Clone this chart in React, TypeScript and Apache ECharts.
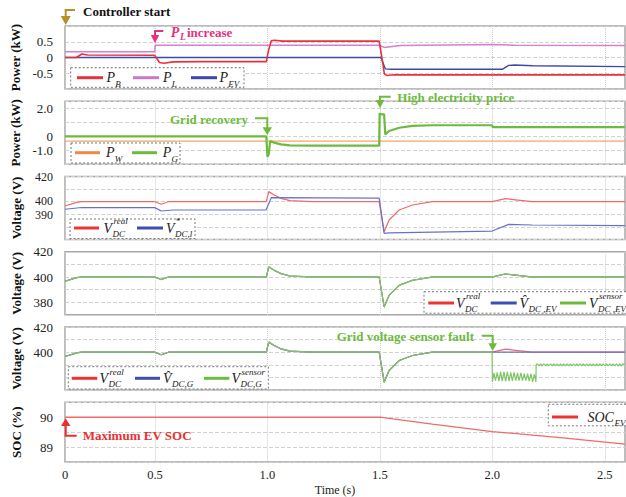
import React, { useEffect, useRef } from "react";
import * as echarts from "echarts";

const FONT = '"Liberation Serif", "Times New Roman", serif';

// ---------- time axis ----------
const TIME_MIN = 0.1;
const TIME_MAX = 2.59;
const timeTicks = [0.1, 0.5, 1.0, 1.5, 2.0, 2.5];
const timeTickLabels = ["0", "0.5", "1.0", "1.5", "2.0", "2.5"];

// ---------- panel 1: power (kW) ----------
const pB = [
  [0.1, 0], [0.15, 0], [0.175, 0.11], [0.2, 0.08], [0.49, 0.07], [0.5, 0.06],
  [0.52, -0.16], [0.54, -0.18], [0.58, -0.14], [0.7, -0.13], [0.995, -0.13],
  [1.006, 0.25], [1.017, 0.53], [1.031, 0.55], [1.067, 0.52], [1.497, 0.52],
  [1.509, 0.0], [1.52, -0.52], [1.53, -0.57], [1.56, -0.55], [2.59, -0.55],
];
const pL = [
  [0.1, 0.18], [0.499, 0.18], [0.501, 0.39], [1.497, 0.39], [1.52, 0.32],
  [1.59, 0.38], [2.0, 0.41], [2.1, 0.39], [2.59, 0.38],
];
const pEV = [
  [0.1, 0], [1.505, 0], [1.524, -0.36], [1.55, -0.375], [2.044, -0.375],
  [2.073, -0.25], [2.1, -0.24], [2.18, -0.26], [2.59, -0.29],
];

// ---------- panel 2: power (kW) ----------
const pW = [[0.1, -0.35], [1.0, -0.35], [2.0, -0.35], [2.59, -0.35]];
const pG = [
  [0.1, 0], [0.995, 0], [1.0, -1.45], [1.006, -1.3], [1.012, -0.34],
  [1.03, -0.45], [1.06, -0.58], [1.1, -0.65], [1.2, -0.67], [1.497, -0.67],
  [1.499, 1.64], [1.505, 1.57], [1.519, 1.57], [1.524, 0.14], [1.541, 0.38],
  [1.586, 0.61], [1.645, 0.74], [1.733, 0.79], [1.999, 0.79], [2.002, 0.66],
  [2.59, 0.66],
];

// ---------- voltages (V) ----------
const vDcReal = [
  [0.1, 396.6], [0.152, 399.5], [0.174, 400], [0.499, 400], [0.528, 398],
  [0.56, 400], [0.995, 400], [1.006, 408], [1.03, 405.3], [1.06, 402.7],
  [1.1, 400.8], [1.2, 400], [1.497, 400], [1.519, 376.2], [1.541, 385.5],
  [1.586, 393.4], [1.645, 397.4], [1.733, 400], [1.999, 400], [2.058, 402.4],
  [2.103, 401.5], [2.177, 400], [2.59, 400],
];
const vDcRefL = [
  [0.1, 394], [0.174, 395.4], [0.499, 395.3], [0.528, 392.6], [0.58, 393.4],
  [0.994, 393.4], [1.017, 403.2], [1.497, 402.8], [1.519, 374.9], [1.541, 375.2],
  [1.999, 376.7], [2.073, 382], [2.177, 381.5], [2.59, 381],
];
const gEstimateAfterFault = [[2.0, 400], [2.59, 400]];
const gSensorAfterFault = [
  [2.0, 400], [2.0005, 376.5], [2.007, 383.5], [2.014, 377.5], [2.022, 384],
  [2.029, 377], [2.037, 384.5], [2.044, 377], [2.052, 384.5], [2.059, 376.8],
  [2.067, 384.5], [2.074, 377], [2.082, 384], [2.089, 377.2], [2.097, 384],
  [2.104, 377.5], [2.112, 383.5], [2.119, 377.5], [2.127, 383.5], [2.134, 377.5],
  [2.142, 383], [2.149, 377.5], [2.157, 383], [2.164, 377], [2.172, 383],
  [2.179, 376.5], [2.187, 382.5], [2.194, 376.5], [2.195, 390],
  [2.2, 390.8], [2.207, 389.2], [2.215, 390.8], [2.222, 389.2], [2.229, 390.8],
  [2.237, 389.2], [2.244, 390.8], [2.251, 389.2], [2.259, 390.8], [2.266, 389.2],
  [2.273, 390.8], [2.281, 389.2], [2.288, 390.8], [2.295, 389.2], [2.303, 390.8],
  [2.31, 389.2], [2.317, 390.8], [2.325, 389.2], [2.332, 390.8], [2.339, 389.2],
  [2.347, 390.8], [2.354, 389.2], [2.361, 390.8], [2.369, 389.2], [2.376, 390.8],
  [2.383, 389.2], [2.391, 390.8], [2.398, 389.2], [2.405, 390.8], [2.413, 389.2],
  [2.42, 390.8], [2.427, 389.2], [2.435, 390.8], [2.442, 389.2], [2.449, 390.8],
  [2.457, 389.2], [2.464, 390.8], [2.471, 389.2], [2.479, 390.8], [2.486, 389.2],
  [2.493, 390.8], [2.501, 389.2], [2.508, 390.8], [2.515, 389.2], [2.523, 390.8],
  [2.53, 389.2], [2.537, 390.8], [2.545, 389.2], [2.552, 390.8], [2.559, 389.2],
  [2.567, 390.8], [2.574, 389.2], [2.581, 390.8], [2.59, 390],
];

// ---------- SOC (%) ----------
const socEV = [[0.1, 90], [1.5, 90], [1.733, 89.77], [2.0, 89.52], [2.325, 89.3], [2.59, 89.1]];

// ---------- y tick labels ----------
const yLabelMaps: Record<string, string>[] = [
  { "0.5": "0.5", "0": "0", "-0.5": "-0.5" },
  { "2": "2.0", "0": "0", "-1": "-1.0" },
  { "420": "420", "400": "{up|400}", "390": "{dn|390}" },
  { "420": "420", "400": "400", "380": "380" },
  { "420": "420", "400": "400" },
  { "90": "90", "89": "89" },
];
const yRanges = [
  { min: -1, max: 1, interval: 0.5 },
  { min: -2, max: 2.5, interval: 1 },
  { min: 370, max: 420, interval: 10 },
  { min: 370, max: 420, interval: 10 },
  { min: 370, max: 420, interval: 10 },
  { min: 88.5, max: 90.5, interval: 0.5 },
];
const yNames = ["Power (kW)", "Power (kW)", "Voltage (V)", "Voltage (V)", "Voltage (V)", "SOC (%)"];
const gridTops = [26, 101.3, 176.5, 251.8, 327, 402.3];
const gridHeights = [63, 63, 63, 63, 63, 60.5];

const C = {
  red: "#e8333a", pink: "#d47fcf", navy: "#3c4aa8", orange: "#f4a56a",
  green: "#6cbb3c", vRed: "#f06a6a", vBlue: "#6a70c8", vGreen: "#80c668",
  gold: "#b8902a", magenta: "#e6317e", annRed: "#e8312f",
  legRed: "#ee3333", legBlue: "#3d4db0", legOrange: "#f08848", legPink: "#cc77cc",
};

function line(name: string, data: number[][], g: number, color: string, width: number) {
  return {
    type: "line", name, data, xAxisIndex: g, yAxisIndex: g, showSymbol: false,
    symbol: "none", lineStyle: { color, width }, itemStyle: { color }, silent: true,
  };
}

function txt(text: string, x: number, y: number, size: number, fill: string,
  weight = "normal", fstyle = "normal", align = "left") {
  return {
    type: "text", x, y, z: 101, silent: true,
    style: { text, fill, fontSize: size, fontFamily: FONT, fontWeight: weight, fontStyle: fstyle, align, verticalAlign: "middle" },
  };
}
function poly(points: number[][], stroke: string, width: number) {
  return { type: "polyline", z: 101, silent: true, shape: { points }, style: { stroke, lineWidth: width, fill: null } };
}
function tri(points: number[][], fill: string) {
  return { type: "polygon", z: 101, silent: true, shape: { points }, style: { fill } };
}
function box(x: number, y: number, w: number, h: number) {
  return { type: "rect", z: 100, silent: true, shape: { x, y, width: w, height: h }, style: { fill: "#fff", stroke: "#777", lineWidth: 1, lineDash: [2, 2] } };
}
function lgLine(x1: number, x2: number, y: number, color: string) {
  return { type: "line", z: 101, silent: true, shape: { x1, y1: y, x2, y2: y }, style: { stroke: color, lineWidth: 3 } };
}
// symbol: main letter(s) + optional sub/sup
function sym(x: number, y: number, base: string, sub?: string, sup?: string, subDx = 9, supDx = 10, baseSize = 14) {
  const out: any[] = [txt(base, x, y, baseSize, "#222", "normal", "italic")];
  if (sub) out.push(txt(sub, x + subDx, y + 5.8, 9, "#222", "normal", "italic"));
  if (sup) out.push(txt(sup, x + supDx, y - 6.8, 9, "#222", "normal", "italic"));
  return out;
}

function buildGraphics() {
  const g: any[] = [];
  // Legend 1
  g.push(box(70.7, 67.7, 173.3, 19.6));
  g.push(lgLine(77, 103, 77.7, C.red), ...sym(106.5, 77.7, "P", "B", undefined, 8.8));
  g.push(lgLine(133, 159, 77.7, C.legPink), ...sym(163, 77.7, "P", "L", undefined, 8.8));
  g.push(lgLine(191, 217, 77.7, C.navy), ...sym(219.5, 77.7, "P", "EV", undefined, 8.8));
  // Legend 2
  g.push(box(71, 143, 109, 20));
  g.push(lgLine(75, 100, 152.7, C.legOrange), ...sym(106, 152.7, "P", "W", undefined, 8.8));
  g.push(lgLine(132, 157, 152.7, C.green), ...sym(162.7, 152.7, "P", "G", undefined, 8.8));
  // Legend 3
  g.push(box(70, 219, 125, 19.5));
  g.push(lgLine(74, 99, 228, C.legRed), ...sym(103.5, 228, "V", "DC", "real"));
  g.push(lgLine(137, 163, 228, C.legBlue), ...sym(166, 228, "V", "DC,l", "*", 9, 9.5));
  // Legend 4
  g.push(box(424, 291.7, 205, 21.5));
  g.push(lgLine(428.3, 454, 303, C.legRed), ...sym(456, 303, "V", "DC", "real"));
  g.push(lgLine(490.7, 516.7, 303, C.legBlue), ...sym(519.5, 303, "V\u0302", "DC ,EV", undefined, 9));
  g.push(lgLine(560, 586, 303, C.green), ...sym(589, 303, "V", "DC ,EV", "sensor", 9, 10));
  // Legend 5
  g.push(box(68.3, 366.7, 200, 22.3));
  g.push(lgLine(71.7, 97.3, 378.3, C.legRed), ...sym(99.5, 378.3, "V", "DC", "real"));
  g.push(lgLine(135, 160, 378.3, C.legBlue), ...sym(163, 378.3, "V\u0302", "DC,G", undefined, 9));
  g.push(lgLine(204, 229.3, 378.3, C.green), ...sym(231.5, 378.3, "V", "DC,G", "sensor"));
  // Legend 6
  g.push(box(548.3, 404.3, 80, 21.5));
  g.push(lgLine(552, 578, 417, C.legRed), ...sym(587.5, 417, "SOC", "EV", undefined, 27, 0, 14));

  // Annotations
  g.push(poly([[75, 10], [65.7, 10], [65.7, 17]], C.gold, 2));
  g.push(tri([[60.7, 16], [70.7, 16], [65.7, 25]], C.gold));
  g.push(txt("Controller start", 83, 11, 13, "#111", "bold"));

  g.push(poly([[163.3, 31], [155, 31], [155, 36]], C.magenta, 2));
  g.push(tri([[150.8, 35], [159.2, 35], [155, 43.3]], C.magenta));
  g.push(txt("P", 170.7, 32.3, 14, C.magenta, "bold", "italic"));
  g.push(txt("L", 180, 37, 9.5, C.magenta, "bold", "italic"));
  g.push(txt("increase", 187, 32.3, 13, C.magenta, "bold"));

  g.push(txt("Grid recovery", 170, 119.3, 13, C.green, "bold"));
  g.push(poly([[255, 118.3], [267.3, 118.3], [267.3, 128]], C.green, 2));
  g.push(tri([[262.5, 127.3], [272, 127.3], [267.3, 135]], C.green));

  g.push(txt("High electricity price", 397.3, 97.3, 13, C.green, "bold"));
  g.push(poly([[390.7, 96.7], [380, 96.7], [380, 101]], C.green, 2));
  g.push(tri([[375.8, 100], [384.3, 100], [380, 108.3]], C.green));

  g.push(txt("Grid voltage sensor fault", 336.7, 336.7, 13, C.green, "bold"));
  g.push(poly([[481.7, 335.7], [492.7, 335.7], [492.7, 344]], C.green, 2));
  g.push(tri([[488.3, 343.3], [497, 343.3], [492.7, 351]], C.green));

  g.push(tri([[61, 426], [70.4, 426], [65.7, 418.3]], C.annRed));
  g.push(poly([[65.7, 425], [65.7, 435.7], [76.7, 435.7]], C.annRed, 2));
  g.push(txt("Maximum EV SOC", 82.7, 435.7, 13, C.annRed, "bold"));
  return g;
}

function buildOption() {
  const grids = gridTops.map((top, i) => ({
    left: 65, right: 1, top, height: gridHeights[i], show: true,
    borderColor: "#a8a8a8", borderWidth: 1.5, backgroundColor: "transparent",
  }));
  const xAxes = gridTops.map((_, i) => ({
    type: "value", gridIndex: i, min: TIME_MIN, max: TIME_MAX,
    axisLine: { show: false },
    axisTick: { show: false, customValues: timeTicks },
    splitLine: { show: true, lineStyle: { color: "#cccccc", type: "dotted", width: 1 } },
    axisLabel: {
      show: i === 5, customValues: timeTicks, margin: 6,
      fontFamily: FONT, fontSize: 12.5, color: "#222",
      formatter: (v: number) => {
        const k = timeTicks.findIndex((t) => Math.abs(t - v) < 1e-6);
        return k >= 0 ? timeTickLabels[k] : "";
      },
    },
    name: i === 5 ? "Time (s)" : "",
    nameLocation: "middle", nameGap: 22,
    nameTextStyle: { fontFamily: FONT, fontSize: 12, color: "#222", padding: [0, 20, 0, 0] },
  }));
  const yAxes = gridTops.map((_, i) => ({
    type: "value", gridIndex: i, ...yRanges[i],
    axisLine: { show: false }, axisTick: { show: false },
    splitLine: { show: true, lineStyle: { color: "#d2d2d2", type: "dashed", width: 1 } },
    axisLabel: {
      margin: 12, fontFamily: FONT, fontSize: i === 2 ? 12 : 13, color: "#222",
      formatter: (v: number) => yLabelMaps[i][String(v)] ?? "",
      rich: {
        up: { fontFamily: FONT, fontSize: 12, color: "#222", padding: [0, 0, 2, 0] },
        dn: { fontFamily: FONT, fontSize: 12, color: "#222", padding: [2, 0, 0, 0] },
      },
    },
    name: yNames[i], nameLocation: "middle", nameGap: 42, nameRotate: 90,
    nameTextStyle: { fontFamily: FONT, fontSize: 13, fontWeight: "bold", color: "#111" },
  }));

  const preFault = vDcReal.filter((p) => p[0] < 2);
  const series = [
    line("P_L", pL, 0, C.pink, 1.5),
    line("P_EV", pEV, 0, C.navy, 1.4),
    line("P_B", pB, 0, C.red, 1.6),
    line("P_W", pW, 1, C.orange, 1.3),
    line("P_G", pG, 1, C.green, 2.2),
    line("V_DC^real", vDcReal, 2, C.vRed, 1.2),
    line("V*_DC,l", vDcRefL, 2, C.vBlue, 1.2),
    line("V_DC^real (EV)", vDcReal, 3, C.vRed, 1.1),
    line("V^_DC,EV", vDcReal, 3, C.vBlue, 1.1),
    line("V_DC,EV^sensor", vDcReal, 3, C.vGreen, 1.3),
    line("V_DC^real (G)", vDcReal, 4, C.vRed, 1.2),
    line("V^_DC,G", preFault.concat(gEstimateAfterFault), 4, C.vBlue, 1.2),
    line("V_DC,G^sensor", preFault.concat(gSensorAfterFault), 4, C.vGreen, 1.2),
    line("SOC_EV", socEV, 5, C.vRed, 1.3),
  ];

  return {
    animation: false,
    backgroundColor: "#ffffff",
    grid: grids,
    xAxis: xAxes,
    yAxis: yAxes,
    series,
    graphic: { elements: buildGraphics() },
  };
}

export default function App() {
  const ref = useRef<HTMLDivElement>(null);
  useEffect(() => {
    if (!ref.current) return;
    const chart = echarts.init(ref.current, undefined, { renderer: "svg" });
    chart.setOption(buildOption() as any);
    return () => chart.dispose();
  }, []);
  return (
    <div
      ref={ref}
      style={{ position: "fixed", left: 0, top: 0, width: 626, height: 497, background: "#fff" }}
    />
  );
}
